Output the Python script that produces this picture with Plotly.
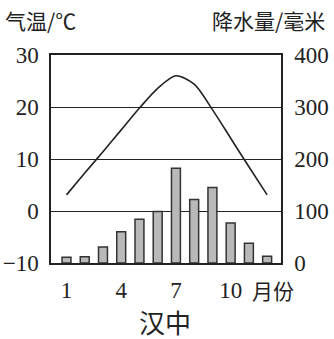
import plotly.graph_objects as go

months = list(range(1, 13))
temperature = [3.1, 7.3, 11.4, 15.6, 19.8, 23.6, 26.0, 24.4, 19.5, 14.0, 8.5, 3.1]
precipitation = [11, 12, 31, 60, 84, 99, 182, 122, 145, 77, 38, 13]
x_tick_vals = [1, 4, 7, 10]
x_tick_text = ["1", "4", "7", "10"]
temp_ticks = [-10, 0, 10, 20, 30]
precip_ticks = [0, 100, 200, 300, 400]

serif = "Liberation Serif"
cjk = "Noto Sans CJK SC"
ink = "#222222"
tickfont = dict(family=serif, size=23, color=ink)

fig = go.Figure()
fig.add_trace(go.Bar(
    x=months, y=precipitation, yaxis="y2", width=0.49,
    marker=dict(color="#b9b9b9", line=dict(color="#333333", width=1.5)),
    showlegend=False,
))
fig.add_trace(go.Scatter(
    x=months, y=temperature, mode="lines",
    line=dict(color=ink, width=1.6, shape="spline", smoothing=0.8),
    showlegend=False,
))

fig.update_layout(
    width=334, height=339,
    margin=dict(l=51, r=53, t=55, b=76),
    paper_bgcolor="white", plot_bgcolor="white",
    font=tickfont,
    xaxis=dict(
        range=[0.15, 12.76], tickvals=x_tick_vals, ticktext=x_tick_text,
        showgrid=False, zeroline=False, showline=True, mirror=True,
        linecolor=ink, linewidth=1.5, ticks="", ticklabelstandoff=6,
        tickfont=tickfont, automargin=False, fixedrange=True,
    ),
    yaxis=dict(
        range=[-10, 30], tickvals=temp_ticks, showgrid=True, gridcolor=ink,
        gridwidth=1.4, zeroline=False, showline=True, linecolor=ink,
        linewidth=1.5, ticks="", ticklabelstandoff=6, tickfont=tickfont,
        automargin=False,
    ),
    yaxis2=dict(
        range=[0, 400], tickvals=precip_ticks, overlaying="y", side="right",
        showgrid=False, zeroline=False, showline=True, linecolor=ink,
        linewidth=1.5, ticks="", ticklabelstandoff=7, tickfont=tickfont,
        automargin=False,
    ),
    annotations=[
        dict(text="气温/℃", xref="paper", yref="paper", x=-0.207, y=1.168,
             xanchor="left", yanchor="middle", showarrow=False,
             font=dict(family=cjk, size=21, color=ink)),
        dict(text="降水量/毫米", xref="paper", yref="paper", x=1.2, y=1.168,
             xanchor="right", yanchor="middle", showarrow=False,
             font=dict(family=cjk, size=21, color=ink)),
        dict(text="月份", xref="paper", yref="paper", x=0.865, y=-0.13,
             xanchor="left", yanchor="middle", showarrow=False,
             font=dict(family=cjk, size=21, color=ink)),
        dict(text="汉中", xref="paper", yref="paper", x=0.496, y=-0.28,
             xanchor="center", yanchor="middle", showarrow=False,
             font=dict(family=cjk, size=26, color=ink)),
    ],
)

fig.write_html("out.html")
